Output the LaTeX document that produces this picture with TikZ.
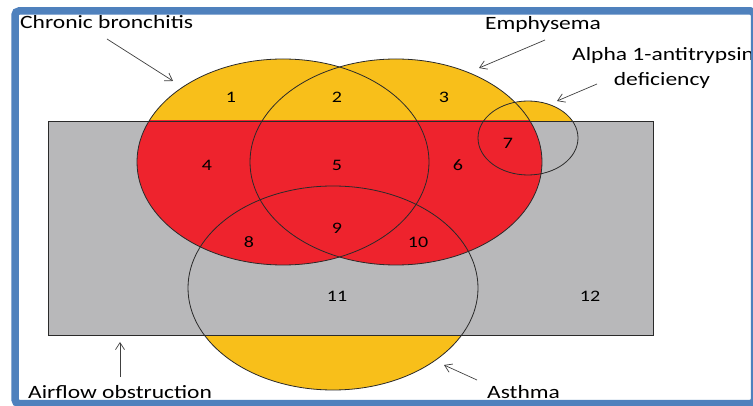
\documentclass[tikz,border=0pt]{standalone}
\usepackage{fontspec}
\newfontfamily\labfont[FakeStretch=1.25]{Carlito}
\usetikzlibrary{arrows.meta}
\definecolor{venyellow}{HTML}{F8BF1A}
\definecolor{venred}{HTML}{EE232D}
\definecolor{vengray}{HTML}{B8B8BA}
\definecolor{frameblue}{HTML}{4F81BD}
\definecolor{outline}{HTML}{2A2A2A}
\begin{document}
\begin{tikzpicture}[x=1pt,y=-1pt,
  lab/.style={font=\labfont\fontsize{18.8}{20}\selectfont, inner sep=0pt, text=black},
  num/.style={font=\labfont\fontsize{16}{18}\selectfont, inner sep=0pt, text=black},
  pointer/.style={draw=black!75, line width=0.7pt, -{Straight Barb[length=7pt,width=9pt,line width=0.7pt]}},
  outl/.style={draw=outline, line width=0.8pt}]
\useasboundingbox (0,0) rectangle (753,406);
\fill[white] (0,0) rectangle (753,406);
% yellow parts (outside the rectangle)
\fill[venyellow] (283,162) ellipse [x radius=146, y radius=103];
\fill[venyellow] (396,162) ellipse [x radius=146, y radius=103];
\fill[venyellow] (528,138) ellipse [x radius=50, y radius=37];
\fill[venyellow] (333,288) ellipse [x radius=145, y radius=102];
% airflow obstruction rectangle
\fill[vengray] (48,121) rectangle (653,335);
\begin{scope}
  \clip (48,121) rectangle (653,335);
  \fill[venred] (283,162) ellipse [x radius=146, y radius=103];
  \fill[venred] (396,162) ellipse [x radius=146, y radius=103];
\end{scope}
\draw[outl] (48,121) rectangle (653,335);
\draw[outl] (283,162) ellipse [x radius=146, y radius=103];
\draw[outl] (396,162) ellipse [x radius=146, y radius=103];
\draw[outl] (528,138) ellipse [x radius=50, y radius=37];
\draw[outl] (333,288) ellipse [x radius=145, y radius=102];
% region numbers
\node[num] (n1) at (231,97) {1};
\node[num] (n2) at (337,97) {2};
\node[num] (n3) at (444,97) {3};
\node[num] (n4) at (207,165) {4};
\node[num] (n5) at (337,165) {5};
\node[num] (n6) at (458,165) {6};
\node[num] (n7) at (508,143) {7};
\node[num] (n8) at (249,242) {8};
\node[num] (n9) at (337,228) {9};
\node[num] (n10) at (418,242) {10};
\node[num] (n11) at (337,296) {11};
\node[num] (n12) at (590,296) {12};
% labels
\node[lab, anchor=west] (cb) at (20,22) {Chronic bronchitis};
\node[lab] (em) at (543,24) {Emphysema};
\node[lab, anchor=west] (al1) at (572,55) {Alpha 1-antitrypsin};
\node[lab] (al2) at (662,80) {deficiency};
\node[lab, anchor=west] (af) at (28,392) {Airflow obstruction};
\node[lab, anchor=west] (as) at (487,392) {Asthma};
% pointers
\coordinate (cbs) at (107,39); \coordinate (cbe) at (173,81);
\coordinate (ems) at (545,40); \coordinate (eme) at (479,68);
\coordinate (als) at (597,84); \coordinate (ale) at (557,101);
\coordinate (afs) at (120,377); \coordinate (afe) at (120,342);
\coordinate (ass) at (477,380); \coordinate (ase) at (444,365);
\draw[pointer] (cbs) -- (cbe);
\draw[pointer] (ems) -- (eme);
\draw[pointer] (als) -- (ale);
\draw[pointer] (afs) -- (afe);
\draw[pointer] (ass) -- (ase);
% frame
\draw[frameblue, line width=7.5pt, rounded corners=4pt] (15,11) rectangle (754.5,403.5);
\end{tikzpicture}
\end{document}
